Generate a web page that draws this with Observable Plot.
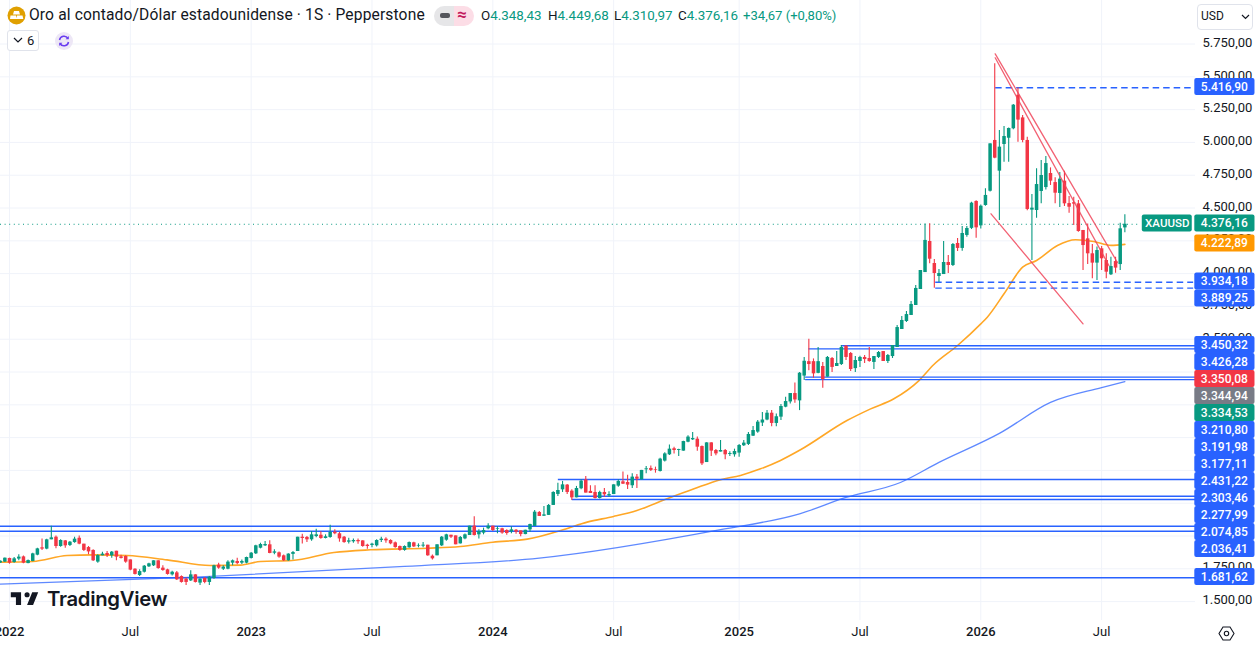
<!DOCTYPE html>
<html lang="es">
<head>
<meta charset="utf-8">
<script src="https://cdn.jsdelivr.net/npm/d3@7"></script>
<script src="https://cdn.jsdelivr.net/npm/@observablehq/plot@0.6"></script>
<style>
html,body{margin:0;padding:0;background:#fff;width:1258px;height:647px;overflow:hidden}
body{position:relative;font-family:Roboto,"Noto Sans",sans-serif;color:#131722}
#chart{position:absolute;left:0;top:0}
.o{position:absolute;white-space:nowrap;line-height:1}
.g{color:#089981}
</style>
</head>
<body>
<div id="chart"></div>
<svg class="o" style="left:7px;top:6px" width="20" height="20" viewBox="0 0 20 20"><circle cx="9.5" cy="9.5" r="9" fill="#e0a000"/><path d="M7 5h5l1 3.5H6zM3.5 9.5h5.5l.8 3.5H3zM10 9.5h5.5l.8 3.500H9.500z" fill="#fff"/></svg>
<div class="o" style="left:29px;top:8px;font-size:15.6px;letter-spacing:.13px">Oro al contado/Dólar estadounidense · 1S · Pepperstone</div>
<div class="o" style="left:434px;top:6px;width:40px;height:20px;border-radius:10px;background:linear-gradient(90deg,#e6e6e8 50%,#fcdde6 50%)"></div>
<div class="o" style="left:440px;top:13px;width:10px;height:5px;border-radius:2px;background:#55565c"></div>
<div class="o" style="left:457px;top:6px;font-size:17px;font-weight:700;color:#c2185b">≈</div>
<div class="o" style="left:481px;top:9px;font-size:13.4px">O<span class="g">4.348,43</span></div>
<div class="o" style="left:548px;top:9px;font-size:13.4px">H<span class="g">4.449,68</span></div>
<div class="o" style="left:614px;top:9px;font-size:13.4px">L<span class="g">4.310,97</span></div>
<div class="o" style="left:678px;top:9px;font-size:13.4px">C<span class="g">4.376,16</span></div>
<div class="o g" style="left:743px;top:9px;font-size:13.1px">+34,67 (+0,80%)</div>
<div class="o" style="left:7px;top:30px;width:30px;height:19px;border:1px solid #e0e3eb;border-radius:3px;background:#fff"></div>
<svg class="o" style="left:13px;top:37px" width="10" height="7" viewBox="0 0 10 7"><path d="M1 1l4 4 4-4" fill="none" stroke="#131722" stroke-width="1.2"/></svg>
<div class="o" style="left:27px;top:34px;font-size:13px">6</div>
<svg class="o" style="left:55px;top:32px" width="18" height="18" viewBox="0 0 18 18"><circle cx="9" cy="9" r="9" fill="#ede7f6"/><path d="M4.5 8A4.6 4.6 0 0 1 13 6.5M13.5 10A4.6 4.6 0 0 1 5 11.5" fill="none" stroke="#6a3df0" stroke-width="1.5"/><path d="M13.8 4v3.2h-3.2zM4.2 14v-3.2h3.2z" fill="#6a3df0"/></svg>
<div class="o" style="left:1197px;top:4px;width:54px;height:24px;border:1px solid #e0e3eb;border-radius:4px;background:#fff"></div>
<div class="o" style="left:1201px;top:10px;font-size:12px;font-weight:400">USD</div>
<svg class="o" style="left:1241px;top:14px" width="9" height="6" viewBox="0 0 9 6"><path d="M1 1l3.500 3.500L8 1" fill="none" stroke="#131722" stroke-width="1.2"/></svg>
<svg class="o" style="left:9px;top:587px" width="31" height="24" viewBox="0 0 36 28"><path d="M14 6H2v6h6v9h6V6zm14 15h-7l6-15h7l-6 15zm-7-9a3 3 0 1 0 0-6 3 3 0 0 0 0 6z" fill="#131722"/></svg>
<div class="o" style="left:47px;top:589px;font-family:Inter,Roboto,sans-serif;font-size:20.3px;font-weight:600;letter-spacing:-.3px">TradingView</div>
<svg class="o" style="left:1218px;top:625px" width="17" height="17" viewBox="0 0 17 17"><path d="M5 2h7l4 6.500-4 6.500H5L1 8.500z" fill="none" stroke="#131722" stroke-width="1.100"/><circle cx="8.500" cy="8.500" r="2.200" fill="none" stroke="#131722" stroke-width="1.100"/></svg>
<script>
// Weekly bars, week 0 = 3 Jan 2022
const weeks = d3.range(-2, 241);
const opens = [
1795,1801,1829,1798,1824,1841,1790,1806,1854,1910,
1900,1971,1991,1920,1963,1928,1950,1983,1938,1912,
1890,1801,1849,1867,1849,1884,1841,1844,1818,1747,
1699,1724,1765,1773,1811,1755,1742,1704,1719,1691,
1671,1658,1704,1641,1676,1646,1676,1778,1747,1747,
1793,1806,1793,1793,1829,1864,1907,1925,1933,1869,
1872,1849,1811,1860,1882,1991,1989,1971,1996,2006,
1981,1989,2029,2017,1991,1953,1956,1966,1963,1930,
1928,1925,1966,1976,1966,1948,1920,1890,1910,1948,
1923,1923,1930,1846,1849,1925,1968,2006,2001,1940,
1978,2004,2075,2009,2022,2055,2075,2052,2055,2042,
2032,2044,2039,2011,2047,2073,2179,2151,2157,2233,
2317,2352,2388,2342,2291,2360,2428,2340,2332,2286,
2332,2306,2316,2380,2413,2408,2383,2449,2428,2505,
2515,2507,2492,2571,2619,2665,2652,2647,2715,2733,
2738,2682,2560,2710,2652,2640,2652,2622,2619,2632,
2688,2698,2761,2792,2861,2884,2936,2858,2906,2982,
3022,3086,3030,3219,3329,3329,3240,3292,3211,3353,
3292,3307,3447,3391,3276,3330,3361,3353,3323,3361,
3406,3330,3368,3437,3574,3635,3681,3757,3879,4008,
4245,4077,3978,3993,4085,4062,4230,4192,4291,4345,
4550,4364,4519,4628,5015,4781,4984,5032,5104,5360,
5187,5015,4484,4481,4626,4656,4763,4694,4611,4705,
4534,4540,4532,4329,4265,4151,4080,4189,4100,3991,4092,
4069,4348.43];
const highs = [
1812,1833,1831,1836,1857,1848,1818,1869,1907,1978,
1976,2075,2001,1971,1966,1958,1990,2001,1938,1920,
1895,1857,1877,1882,1882,1884,1854,1849,1818,1750,
1742,1775,1793,1811,1811,1773,1747,1732,1730,1696,
1679,1735,1704,1674,1684,1691,1778,1793,1773,1811,
1818,1831,1818,1839,1874,1930,1945,1958,1963,1895,
1879,1856,1864,1882,1991,2014,1996,2034,2052,2032,
2009,2082,2047,2027,1996,1983,1978,1978,1963,1938,
1945,1971,1991,1986,1971,1955,1923,1925,1955,1953,
1940,1950,1930,1856,1933,1996,2014,2006,2001,1996,
2016,2075,2146,2047,2060,2093,2075,2072,2060,2047,
2070,2050,2039,2044,2090,2195,2187,2225,2240,2337,
2403,2416,2393,2352,2378,2428,2454,2383,2383,2342,
2362,2337,2390,2428,2487,2464,2474,2469,2500,2530,
2533,2525,2593,2634,2693,2677,2662,2723,2764,2789,
2754,2687,2710,2710,2660,2728,2660,2642,2662,2698,
2728,2789,2835,2881,2942,2956,2956,2930,3002,3058,
3086,3167,3246,3360,3500,3350,3436,3322,3368,3361,
3406,3452,3452,3399,3368,3371,3376,3437,3368,3406,
3406,3384,3452,3605,3673,3711,3788,3909,4024,4379,
4380,4107,4031,4245,4138,4230,4268,4359,4359,4544,
4555,4524,4646,4989,5599,5091,5121,5110,5289,5416,
5205,5040,4603,4799,4862,4892,4806,4730,4771,4781,
4588,4583,4557,4329,4379,4222,4202,4207,4151,4125,4125,
4384,4449.68];
const lows = [
1790,1798,1785,1793,1811,1788,1788,1803,1849,1889,
1895,1971,1902,1915,1907,1920,1945,1933,1882,1857,
1806,1793,1849,1836,1831,1811,1824,1793,1735,1702,
1691,1719,1760,1768,1747,1732,1702,1696,1661,1641,
1623,1653,1641,1623,1636,1623,1671,1747,1737,1742,
1773,1780,1783,1788,1824,1859,1902,1920,1864,1857,
1831,1806,1808,1818,1882,1940,1950,1961,1986,1976,
1978,1983,2009,1953,1945,1940,1945,1938,1915,1900,
1910,1917,1950,1945,1933,1907,1884,1884,1907,1912,
1910,1910,1846,1818,1849,1920,1961,1981,1933,1940,
1971,2004,2001,1978,2009,2047,2034,2017,2014,2005,
2017,2013,1994,2009,2026,2073,2149,2149,2157,2233,
2301,2332,2317,2271,2291,2352,2327,2324,2283,2283,
2296,2296,2316,2372,2393,2355,2362,2362,2428,2474,
2492,2479,2487,2565,2614,2626,2606,2647,2710,2728,
2647,2537,2560,2606,2611,2640,2581,2606,2601,2601,
2682,2690,2758,2784,2834,2879,2832,2833,2880,2977,
3007,3012,2956,3185,3260,3203,3236,3127,3211,3246,
3292,3300,3338,3254,3246,3284,3315,3325,3269,3353,
3330,3315,3353,3437,3574,3627,3681,3757,3879,4008,
4075,3889,3932,3993,4001,4054,4169,4171,4278,4336,
4270,4341,4514,4622,4875,4405,4849,4849,5096,5002,
4997,4480,4100,4422,4532,4638,4672,4532,4504,4512,
4461,4367,4316,4024,4070,3960,3948,4024,3960,3986,4003,
4024,4310.97];
const closes = [
1808,1831,1793,1826,1839,1793,1813,1864,1902,1900,
1971,1986,1920,1966,1925,1953,1976,1938,1890,1879,
1811,1851,1862,1851,1877,1839,1829,1801,1740,1707,
1729,1770,1788,1811,1752,1737,1707,1724,1666,1646,
1646,1704,1646,1671,1646,1686,1773,1755,1763,1801,
1811,1790,1806,1836,1869,1925,1935,1935,1867,1879,
1839,1811,1862,1874,1991,1981,1971,2009,2009,1981,
1994,2027,2017,1978,1950,1963,1966,1956,1920,1920,
1938,1966,1976,1963,1940,1912,1890,1920,1950,1917,
1928,1930,1849,1826,1933,1991,2009,1991,1933,1989,
2009,2075,2004,2034,2042,2075,2042,2057,2022,2019,
2047,2029,2011,2044,2088,2182,2149,2161,2233,2332,
2347,2390,2332,2291,2362,2418,2327,2324,2286,2332,
2314,2316,2390,2416,2395,2388,2449,2433,2500,2512,
2500,2502,2586,2626,2662,2652,2659,2720,2754,2743,
2677,2550,2710,2647,2626,2652,2619,2629,2644,2690,
2708,2774,2804,2868,2884,2936,2858,2909,2987,3025,
3086,3037,3241,3332,3307,3236,3329,3193,3361,3285,
3315,3437,3361,3269,3338,3361,3345,3330,3368,3399,
3330,3376,3452,3589,3643,3688,3765,3887,4024,4253,
4110,4001,4001,4085,4062,4222,4192,4306,4344,4537,
4349,4514,4596,4989,4880,4964,5045,5106,5284,5170,
5015,4489,4499,4679,4748,4839,4705,4613,4720,4532,
4506,4530,4321,4214,4151,4080,4176,4113,4011,4054,4042,
4341.49,4376.16];

const orangeWeeks = [-2,5,12.4,18,25.3,33.9,43.2,49.7,54,60.8,69.8,77.7,89.9,97,104,111.4,119.3,124.3,130,135,141.5,147.3,153,157.3,161.6,165.9,170.2,180.2,185.3,190.3,195.7,198.9,204,209,210.4,214,218,221,225.5,229.4,233.3,237,240];
const orangeVals  = [1801,1806,1851,1856,1851,1818,1775,1778,1806,1813,1874,1895,1907,1920,1953,1976,2050,2106,2149,2195,2284,2360,2429,2462,2512,2576,2657,2880,2969,3046,3185,3307,3452,3617,3668,3846,4049,4100,4215,4258,4245,4215,4222.89];
const blueWeeks = [-2,40,85,114,153,170,180,191.7,200,213,224,235,240];
const blueVals  = [1633,1686,1768,1831,2048,2169,2294,2408,2561,2782,3018,3131,3177.11];

const trendWeeks = [[212.1,238.4],[212.1,236.6],[211.2,231]];
const trendVals  = [[5675,4085],[5645,4060],[4456,3617]];

const levelVals   = [5416.9,3934.18,3889.25,3450.32,3426.28,3210.8,3191.98,2431.22,2303.46,2277.99,2074.85,2036.41,1681.62];
const levelStarts = [212.2,199.3,199.3,179,172,171.3,171.3,118.1,122.4,121.1,-1.94,-1.94,-1.94];
const levelDashed = [true,true,true,false,false,false,false,false,false,false,false,false,false];

const tagVals   = [5416.9,4376.16,4222.89,3934.18,3889.25,3450.32,3426.28,3350.08,3344.94,3334.53,3210.8,3191.98,3177.11,2431.22,2303.46,2277.99,2074.85,2036.41,1681.62];
const tagKinds  = ["level","last","ma","level","level","level","level","red","gray","green","level","level","level","level","level","level","level","level","level"];

const yearWeeks = [0,52,104,157,209];
const yearLabels = ["2022","2023","2024","2025","2026"];
const julWeeks = [26,78,130,183,235];
const gridPrices = d3.range(1500,5751,250);
const axisPrices = [1500,1750,3500,3750,4000,4250,4500,4750,5000,5250,5500,5750];

const symbol = "XAUUSD";
const lastClose = closes[closes.length-1];

const UP="#089981", DOWN="#f23645", BLUE="#2962ff", GRID="#f0f3fa";
const kindColor = {level:BLUE,last:UP,ma:"#ff9800",red:DOWN,gray:"#787b86",green:UP};
const es = d3.formatLocale({decimal:",",thousands:".",grouping:[3],currency:["",""]});
const fmt = es.format(",.2f");

const bars = weeks.map((w,i)=>({w,o:opens[i],h:highs[i],l:lows[i],c:closes[i],col:closes[i]>=opens[i]?UP:DOWN}));
const orange = orangeWeeks.map((w,i)=>({w,v:orangeVals[i]}));
const blue = blueWeeks.map((w,i)=>({w,v:blueVals[i]}));
const levels = levelVals.map((v,i)=>({v,s:levelStarts[i],d:levelDashed[i]}));
const trends = trendWeeks.flatMap((ws,k)=>ws.map((w,j)=>({k,w,v:trendVals[k][j]})));

// x domain: week numbers visible across the plot; the price column lies right of it
const xMin=-1.937, xMax=255.2, columnL=255.05, columnR=268.0, tagL=243.75, tagR=254.5, columnMid=261.4;
// price-tag stacking: each tag sits at its price or just below the one above
const tagStep = 129.6, tagNudge = 6;
let prev = Infinity;
const tags = tagVals.map((v,i)=>{const p=Math.min(v+tagNudge,prev-tagStep);prev=p;return {v,p,col:kindColor[tagKinds[i]]};});
const lastTag = tags.find(t=>t.v===lastClose);

const plot = Plot.plot({
  width:1258,height:647,marginLeft:0,marginRight:63,marginTop:0,marginBottom:27,
  style:{fontFamily:"Roboto,'Noto Sans',sans-serif",background:"transparent",overflow:"hidden"},
  x:{type:"linear",domain:[xMin,xMax]},
  y:{type:"linear",domain:[1356,6081.8]},
  color:{type:"identity"},
  marks:[
    Plot.ruleY(gridPrices,{x1:xMin,x2:xMax,stroke:GRID}),
    Plot.ruleX([...yearWeeks,...julWeeks],{stroke:GRID}),
    Plot.axisY({anchor:"right",ticks:axisPrices,tickSize:0,tickPadding:7,tickFormat:fmt,fontSize:13,dy:-1.5,fill:"#131722",label:null}),
    Plot.axisX({ticks:yearWeeks,tickSize:0,tickPadding:6,tickFormat:d=>yearLabels[yearWeeks.indexOf(d)],fontSize:13,fontWeight:500,fill:"#131722",label:null}),
    Plot.axisX({ticks:julWeeks,tickSize:0,tickPadding:6,tickFormat:()=>"Jul",fontSize:13,fill:"#131722",label:null}),
    Plot.ruleY([lastClose],{x1:xMin,x2:tagL-.4,stroke:UP,strokeDasharray:"1 3.6"}),
    Plot.line(blue,{x:"w",y:"v",stroke:BLUE,strokeOpacity:.75,strokeWidth:1.3,curve:"monotone-x"}),
    Plot.line(orange,{x:"w",y:"v",stroke:"#ffa726",strokeWidth:1.6,curve:"monotone-x"}),
    Plot.ruleY(levels.filter(d=>!d.d),{y:"v",x1:"s",x2:xMax,stroke:BLUE,strokeWidth:1.4}),
    Plot.ruleY(levels.filter(d=>d.d),{y:"v",x1:"s",x2:xMax-.4,stroke:BLUE,strokeWidth:1.3,strokeDasharray:"6.5 4"}),
    Plot.ruleX(bars,{x:"w",y1:"l",y2:"h",stroke:"col",strokeWidth:1.1}),
    Plot.ruleX(bars,{x:"w",y1:"o",y2:"c",stroke:"col",strokeWidth:3.5}),
    Plot.line(trends,{x:"w",y:"v",z:"k",stroke:"#f0455a",strokeOpacity:.85,strokeWidth:1.3}),
    Plot.rect(tags,{x1:columnL,x2:columnR,y1:d=>d.p-tagStep/2,y2:d=>d.p+tagStep/2,fill:"col",rx:2}),
    Plot.text(tags,{x:columnMid,y:"p",text:d=>fmt(d.v),fill:"#fff",fontSize:12,fontWeight:500}),
    Plot.rect([lastTag],{x1:tagL,x2:tagR,y1:d=>d.p-tagStep/2,y2:d=>d.p+tagStep/2,fill:"col",rx:2}),
    Plot.text([lastTag],{x:(tagL+tagR)/2,y:"p",text:()=>symbol,fill:"#fff",fontSize:11.5,fontWeight:500})
  ]
});
document.getElementById("chart").appendChild(plot);
</script>
</body>
</html>
